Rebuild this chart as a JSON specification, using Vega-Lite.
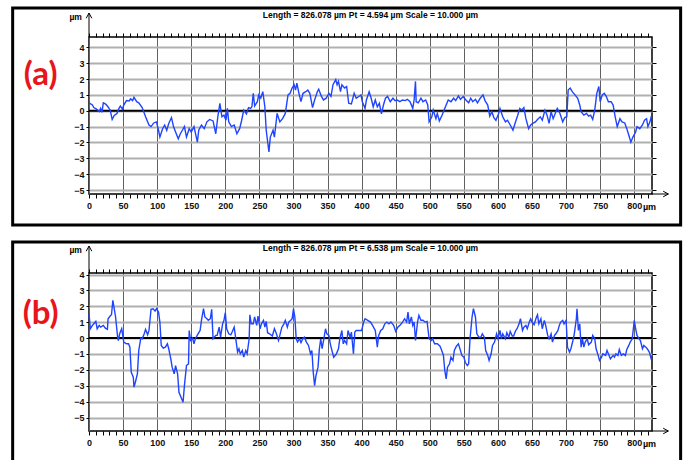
{
  "$schema": "https://vega.github.io/schema/vega-lite/v6.json",
  "padding": {"left": 10, "top": 5, "right": 0, "bottom": 0},
  "spacing": 11,
  "config": {
    "view": {"stroke": "#000", "strokeWidth": 1.5},
    "axis": {"labelFont": "Liberation Sans Narrow, Liberation Sans, sans-serif", "labelFontSize": 9, "labelFontWeight": "bold", "labelColor": "#111", "tickColor": "#000", "domain": false, "titleFont": "Liberation Sans Narrow, Liberation Sans, sans-serif", "titleFontSize": 9, "titleFontWeight": "bold"}
  },
  "datasets": {
    "one": [{}],
    "a": [
      {"x":0,"z":0.5},{"x":5,"z":0.36},{"x":7,"z":0.2},{"x":11,"z":0.1},{"x":15,"z":-0.05},{"x":17,"z":0.15},{"x":19,"z":-0.1},{"x":21,"z":0.5},{"x":24,"z":0.43},{"x":27,"z":0.3},{"x":31,"z":0.05},{"x":34,"z":-0.55},{"x":37,"z":-0.3},{"x":41,"z":-0.17},{"x":44,"z":0.15},{"x":46,"z":0.3},{"x":49,"z":0.1},{"x":51,"z":0.36},{"x":55,"z":0.64},{"x":59,"z":0.62},{"x":61,"z":0.75},{"x":64,"z":0.64},{"x":66,"z":0.85},{"x":70,"z":0.57},{"x":73,"z":0.5},{"x":78,"z":0.2},{"x":83,"z":-0.38},{"x":88,"z":-0.9},{"x":91,"z":-1.0},{"x":95,"z":-0.77},{"x":99,"z":-0.7},{"x":102,"z":-1.23},{"x":104,"z":-1.66},{"x":108,"z":-1.13},{"x":111,"z":-0.9},{"x":114,"z":-1.23},{"x":117,"z":-0.8},{"x":121,"z":-0.43},{"x":124,"z":-1.0},{"x":127,"z":-1.34},{"x":131,"z":-1.77},{"x":134,"z":-1.45},{"x":137,"z":-1.23},{"x":140,"z":-1.0},{"x":143,"z":-1.66},{"x":147,"z":-1.13},{"x":150,"z":-1.34},{"x":154,"z":-1.0},{"x":159,"z":-1.98},{"x":161,"z":-1.23},{"x":165,"z":-0.9},{"x":169,"z":-1.13},{"x":173,"z":-0.7},{"x":177,"z":-0.55},{"x":182,"z":-0.64},{"x":186,"z":-1.45},{"x":189,"z":-0.38},{"x":192,"z":0.47},{"x":195,"z":-0.38},{"x":198,"z":-0.28},{"x":201,"z":-0.6},{"x":203,"z":0.15},{"x":205,"z":-0.7},{"x":209,"z":-1.0},{"x":213,"z":-0.9},{"x":217,"z":-1.45},{"x":221,"z":-1.13},{"x":224,"z":-0.6},{"x":227,"z":0.04},{"x":231,"z":-0.2},{"x":234,"z":0.2},{"x":237,"z":0.15},{"x":239,"z":0.25},{"x":241,"z":1.1},{"x":243,"z":0.3},{"x":247,"z":0.57},{"x":249,"z":1.0},{"x":252,"z":0.8},{"x":255,"z":1.2},{"x":258,"z":0.25},{"x":260,"z":-1.23},{"x":264,"z":-2.6},{"x":266,"z":-1.66},{"x":270,"z":-1.23},{"x":272,"z":-1.66},{"x":276,"z":-0.17},{"x":280,"z":-0.7},{"x":284,"z":-0.5},{"x":288,"z":-0.17},{"x":292,"z":1.0},{"x":295,"z":1.1},{"x":298,"z":1.43},{"x":301,"z":1.64},{"x":303,"z":1.3},{"x":305,"z":1.74},{"x":308,"z":1.1},{"x":311,"z":0.57},{"x":314,"z":1.1},{"x":318,"z":1.2},{"x":321,"z":1.3},{"x":324,"z":1.1},{"x":328,"z":0.2},{"x":331,"z":0.68},{"x":335,"z":1.2},{"x":337,"z":1.36},{"x":341,"z":0.9},{"x":344,"z":0.68},{"x":348,"z":0.79},{"x":352,"z":1.1},{"x":355,"z":0.9},{"x":358,"z":1.64},{"x":362,"z":1.96},{"x":364,"z":1.64},{"x":366,"z":1.85},{"x":369,"z":1.2},{"x":371,"z":1.64},{"x":375,"z":1.43},{"x":378,"z":1.53},{"x":381,"z":0.47},{"x":385,"z":0.43},{"x":389,"z":1.1},{"x":392,"z":0.79},{"x":396,"z":0.9},{"x":399,"z":1.0},{"x":401,"z":0.57},{"x":405,"z":0.15},{"x":407,"z":0.68},{"x":411,"z":1.2},{"x":414,"z":0.79},{"x":417,"z":0.25},{"x":420,"z":0.68},{"x":423,"z":0.25},{"x":426,"z":0.47},{"x":429,"z":-0.2},{"x":432,"z":0.36},{"x":435,"z":0.79},{"x":438,"z":0.9},{"x":442,"z":0.57},{"x":446,"z":0.79},{"x":449,"z":0.64},{"x":452,"z":0.68},{"x":456,"z":0.57},{"x":460,"z":0.68},{"x":464,"z":0.64},{"x":467,"z":0.72},{"x":471,"z":0.57},{"x":475,"z":0.15},{"x":477,"z":0.68},{"x":479,"z":1.85},{"x":480,"z":0.57},{"x":483,"z":0.5},{"x":487,"z":0.79},{"x":490,"z":0.57},{"x":494,"z":0.68},{"x":497,"z":0.36},{"x":499,"z":-0.7},{"x":503,"z":-0.38},{"x":505,"z":0.04},{"x":509,"z":-0.5},{"x":511,"z":-0.17},{"x":514,"z":-0.64},{"x":518,"z":-0.28},{"x":521,"z":0.04},{"x":524,"z":0.36},{"x":527,"z":0.68},{"x":531,"z":0.57},{"x":535,"z":0.79},{"x":538,"z":0.64},{"x":542,"z":0.94},{"x":545,"z":0.72},{"x":549,"z":0.9},{"x":553,"z":0.68},{"x":557,"z":0.5},{"x":560,"z":0.79},{"x":563,"z":0.57},{"x":567,"z":0.72},{"x":570,"z":0.5},{"x":574,"z":0.79},{"x":578,"z":1.0},{"x":581,"z":0.64},{"x":585,"z":0.36},{"x":588,"z":-0.34},{"x":591,"z":-0.06},{"x":594,"z":-0.43},{"x":597,"z":-0.6},{"x":601,"z":-0.17},{"x":603,"z":0.15},{"x":607,"z":-0.38},{"x":611,"z":-0.7},{"x":614,"z":-0.6},{"x":618,"z":-0.9},{"x":622,"z":-1.23},{"x":625,"z":-0.8},{"x":629,"z":-0.28},{"x":632,"z":0.15},{"x":635,"z":0.04},{"x":638,"z":0.2},{"x":641,"z":-0.5},{"x":645,"z":-1.13},{"x":648,"z":-0.9},{"x":651,"z":-0.8},{"x":655,"z":-0.7},{"x":658,"z":-0.55},{"x":662,"z":-0.38},{"x":665,"z":-0.6},{"x":669,"z":0.04},{"x":672,"z":-0.28},{"x":675,"z":-0.8},{"x":678,"z":-0.06},{"x":681,"z":-0.5},{"x":684,"z":-0.17},{"x":687,"z":0.15},{"x":691,"z":-0.17},{"x":695,"z":-0.7},{"x":698,"z":-0.43},{"x":701,"z":-0.38},{"x":703,"z":1.3},{"x":706,"z":1.43},{"x":709,"z":1.2},{"x":713,"z":1.0},{"x":717,"z":0.79},{"x":720,"z":0.36},{"x":722,"z":-0.06},{"x":726,"z":-0.28},{"x":730,"z":-0.17},{"x":733,"z":-0.34},{"x":736,"z":-0.28},{"x":739,"z":-0.55},{"x":742,"z":0.04},{"x":745,"z":1.1},{"x":748,"z":1.53},{"x":750,"z":0.57},{"x":753,"z":1.0},{"x":756,"z":1.1},{"x":759,"z":0.9},{"x":762,"z":0.57},{"x":766,"z":0.57},{"x":769,"z":0.36},{"x":772,"z":-0.38},{"x":775,"z":-1.0},{"x":779,"z":-0.5},{"x":782,"z":-0.7},{"x":786,"z":-0.77},{"x":789,"z":-1.13},{"x":792,"z":-1.55},{"x":795,"z":-1.98},{"x":798,"z":-1.66},{"x":802,"z":-1.34},{"x":804,"z":-1.0},{"x":808,"z":-1.13},{"x":812,"z":-0.9},{"x":815,"z":-0.6},{"x":818,"z":-0.5},{"x":820,"z":-1.0},{"x":823,"z":-0.7},{"x":825,"z":-0.34}
    ],
    "b": [
      {"x":0,"z":1.54},{"x":2,"z":0.59},{"x":5,"z":0.8},{"x":7,"z":0.9},{"x":10,"z":1.05},{"x":12,"z":0.59},{"x":15,"z":0.8},{"x":17,"z":0.69},{"x":21,"z":0.8},{"x":24,"z":0.63},{"x":27,"z":0.55},{"x":28,"z":1.22},{"x":31,"z":1.39},{"x":33,"z":1.47},{"x":35,"z":2.38},{"x":37,"z":1.85},{"x":39,"z":1.33},{"x":42,"z":0.06},{"x":43,"z":-0.15},{"x":45,"z":0.27},{"x":48,"z":0.59},{"x":51,"z":-0.25},{"x":55,"z":-0.36},{"x":58,"z":-0.36},{"x":60,"z":-0.57},{"x":62,"z":-2.15},{"x":65,"z":-2.46},{"x":66,"z":-3.09},{"x":68,"z":-2.78},{"x":71,"z":-2.25},{"x":73,"z":-0.78},{"x":76,"z":0.0},{"x":78,"z":-0.04},{"x":81,"z":0.27},{"x":83,"z":0.55},{"x":86,"z":0.21},{"x":88,"z":0.48},{"x":91,"z":1.81},{"x":94,"z":1.85},{"x":97,"z":1.7},{"x":99,"z":1.85},{"x":102,"z":1.64},{"x":104,"z":1.01},{"x":106,"z":-0.46},{"x":109,"z":-0.63},{"x":112,"z":-0.57},{"x":115,"z":-0.36},{"x":117,"z":-0.67},{"x":120,"z":-1.31},{"x":122,"z":-1.83},{"x":125,"z":-2.25},{"x":127,"z":-1.73},{"x":130,"z":-2.25},{"x":132,"z":-3.41},{"x":135,"z":-3.73},{"x":138,"z":-4.04},{"x":140,"z":-2.99},{"x":143,"z":-1.73},{"x":146,"z":-1.62},{"x":147,"z":0.48},{"x":149,"z":-0.15},{"x":152,"z":0.0},{"x":154,"z":-0.36},{"x":156,"z":-0.04},{"x":160,"z":0.27},{"x":163,"z":0.48},{"x":165,"z":1.12},{"x":168,"z":1.85},{"x":170,"z":1.33},{"x":173,"z":1.22},{"x":175,"z":1.12},{"x":178,"z":1.22},{"x":180,"z":1.81},{"x":182,"z":-0.04},{"x":186,"z":0.17},{"x":188,"z":0.17},{"x":191,"z":0.69},{"x":193,"z":0.06},{"x":196,"z":0.9},{"x":198,"z":1.12},{"x":200,"z":1.6},{"x":202,"z":0.59},{"x":205,"z":0.27},{"x":208,"z":0.21},{"x":210,"z":0.38},{"x":213,"z":0.69},{"x":215,"z":0.06},{"x":218,"z":-0.88},{"x":220,"z":-0.67},{"x":222,"z":-0.99},{"x":225,"z":-0.78},{"x":227,"z":-1.2},{"x":230,"z":-0.78},{"x":232,"z":-0.99},{"x":235,"z":-0.04},{"x":236,"z":1.47},{"x":238,"z":0.9},{"x":241,"z":0.9},{"x":243,"z":1.33},{"x":246,"z":0.8},{"x":248,"z":1.39},{"x":251,"z":0.59},{"x":253,"z":0.9},{"x":256,"z":1.12},{"x":258,"z":0.69},{"x":260,"z":1.05},{"x":262,"z":0.34},{"x":265,"z":0.27},{"x":269,"z":0.13},{"x":272,"z":0.59},{"x":275,"z":0.27},{"x":278,"z":-0.15},{"x":280,"z":0.17},{"x":283,"z":0.69},{"x":286,"z":0.9},{"x":288,"z":1.12},{"x":291,"z":0.69},{"x":293,"z":1.01},{"x":296,"z":1.12},{"x":298,"z":1.22},{"x":300,"z":1.85},{"x":302,"z":1.33},{"x":304,"z":-0.04},{"x":306,"z":-0.25},{"x":309,"z":-0.04},{"x":311,"z":-0.29},{"x":314,"z":0.0},{"x":316,"z":0.06},{"x":319,"z":-0.25},{"x":322,"z":-0.46},{"x":325,"z":-0.99},{"x":327,"z":-0.78},{"x":329,"z":-2.15},{"x":331,"z":-2.99},{"x":333,"z":-2.36},{"x":336,"z":-1.83},{"x":338,"z":-0.67},{"x":340,"z":-0.04},{"x":342,"z":-0.67},{"x":345,"z":0.06},{"x":347,"z":0.59},{"x":349,"z":0.27},{"x":352,"z":0.17},{"x":354,"z":-0.36},{"x":357,"z":-0.88},{"x":359,"z":-1.2},{"x":363,"z":-0.99},{"x":366,"z":-0.67},{"x":368,"z":-0.04},{"x":371,"z":0.48},{"x":373,"z":-0.36},{"x":375,"z":-0.15},{"x":378,"z":-0.36},{"x":380,"z":0.48},{"x":383,"z":0.06},{"x":385,"z":0.38},{"x":388,"z":-0.99},{"x":390,"z":0.38},{"x":392,"z":0.48},{"x":397,"z":0.48},{"x":400,"z":0.48},{"x":403,"z":1.01},{"x":405,"z":1.22},{"x":409,"z":1.12},{"x":413,"z":1.01},{"x":416,"z":0.8},{"x":420,"z":0.48},{"x":423,"z":-0.57},{"x":425,"z":0.17},{"x":428,"z":0.48},{"x":431,"z":0.59},{"x":434,"z":0.9},{"x":437,"z":1.01},{"x":440,"z":0.9},{"x":443,"z":1.01},{"x":447,"z":0.8},{"x":450,"z":0.42},{"x":453,"z":0.69},{"x":457,"z":0.84},{"x":460,"z":1.01},{"x":463,"z":1.22},{"x":466,"z":1.01},{"x":468,"z":1.64},{"x":470,"z":0.9},{"x":473,"z":1.33},{"x":475,"z":0.8},{"x":477,"z":1.01},{"x":479,"z":-0.15},{"x":482,"z":1.01},{"x":484,"z":1.43},{"x":487,"z":1.12},{"x":490,"z":1.12},{"x":493,"z":1.01},{"x":496,"z":1.05},{"x":499,"z":-0.04},{"x":502,"z":-0.15},{"x":504,"z":-0.04},{"x":507,"z":-0.36},{"x":511,"z":-0.36},{"x":515,"z":-0.51},{"x":517,"z":-0.72},{"x":520,"z":-1.09},{"x":522,"z":-2.04},{"x":524,"z":-2.57},{"x":526,"z":-1.83},{"x":529,"z":-1.62},{"x":531,"z":-1.2},{"x":534,"z":-1.41},{"x":536,"z":-0.78},{"x":539,"z":-0.51},{"x":542,"z":-0.36},{"x":545,"z":-0.78},{"x":547,"z":-1.09},{"x":550,"z":-1.2},{"x":552,"z":-1.52},{"x":555,"z":-1.73},{"x":557,"z":-1.62},{"x":559,"z":-0.04},{"x":562,"z":1.33},{"x":564,"z":1.85},{"x":567,"z":1.33},{"x":569,"z":0.27},{"x":572,"z":0.06},{"x":575,"z":0.06},{"x":577,"z":0.27},{"x":580,"z":0.06},{"x":582,"z":-0.78},{"x":585,"z":-1.09},{"x":587,"z":-1.41},{"x":590,"z":-0.99},{"x":592,"z":-0.46},{"x":595,"z":-0.25},{"x":598,"z":0.27},{"x":600,"z":-0.04},{"x":603,"z":0.48},{"x":605,"z":-0.04},{"x":607,"z":0.27},{"x":611,"z":-0.04},{"x":613,"z":0.34},{"x":616,"z":0.06},{"x":618,"z":0.42},{"x":621,"z":0.13},{"x":623,"z":0.13},{"x":626,"z":0.48},{"x":628,"z":0.59},{"x":631,"z":0.9},{"x":633,"z":1.22},{"x":636,"z":0.48},{"x":638,"z":0.69},{"x":641,"z":0.8},{"x":643,"z":0.59},{"x":646,"z":1.01},{"x":648,"z":1.22},{"x":650,"z":1.01},{"x":653,"z":0.84},{"x":656,"z":1.26},{"x":658,"z":1.47},{"x":660,"z":0.9},{"x":663,"z":1.22},{"x":665,"z":0.59},{"x":668,"z":1.12},{"x":670,"z":0.8},{"x":673,"z":0.17},{"x":675,"z":-0.04},{"x":678,"z":0.27},{"x":680,"z":-0.25},{"x":683,"z":0.17},{"x":685,"z":0.27},{"x":688,"z":0.48},{"x":690,"z":0.8},{"x":692,"z":1.01},{"x":695,"z":1.12},{"x":697,"z":0.9},{"x":700,"z":1.12},{"x":702,"z":-0.57},{"x":705,"z":-0.88},{"x":707,"z":-0.67},{"x":710,"z":-0.15},{"x":712,"z":0.27},{"x":715,"z":1.22},{"x":716,"z":1.85},{"x":718,"z":0.48},{"x":720,"z":0.9},{"x":722,"z":-0.57},{"x":724,"z":-0.04},{"x":726,"z":-0.57},{"x":728,"z":-0.25},{"x":731,"z":-0.04},{"x":733,"z":-0.42},{"x":737,"z":-0.25},{"x":739,"z":0.17},{"x":742,"z":-0.04},{"x":744,"z":-0.67},{"x":747,"z":-1.09},{"x":749,"z":-1.41},{"x":752,"z":-1.2},{"x":754,"z":-0.99},{"x":758,"z":-1.09},{"x":760,"z":-0.78},{"x":762,"z":-0.99},{"x":765,"z":-1.31},{"x":769,"z":-1.09},{"x":771,"z":-1.2},{"x":773,"z":-0.99},{"x":776,"z":-1.09},{"x":778,"z":-0.72},{"x":781,"z":-1.09},{"x":784,"z":-0.99},{"x":787,"z":-1.09},{"x":789,"z":-0.72},{"x":792,"z":-0.46},{"x":794,"z":-0.25},{"x":797,"z":-0.04},{"x":800,"z":1.12},{"x":802,"z":0.59},{"x":804,"z":0.17},{"x":807,"z":-0.04},{"x":809,"z":-0.15},{"x":812,"z":-0.67},{"x":814,"z":-0.46},{"x":817,"z":-0.57},{"x":819,"z":-0.67},{"x":822,"z":-0.88},{"x":823,"z":-1.0},{"x":825,"z":-1.35}
    ]
  },
  "vconcat": [
    {
      "width": 563,
      "height": 157,
      "layer": [
        {
          "data": {"name": "one"},
          "mark": {"type": "rect", "fill": "#fff", "fillOpacity": 0, "stroke": "#000", "strokeWidth": 3, "clip": false},
          "encoding": {
            "x": {"datum": -112, "type": "quantitative", "scale": {"domain": [0, 826], "nice": false, "zero": false}, "axis": null},
            "x2": {"datum": 868},
            "y": {"datum": 6.48, "type": "quantitative", "scale": {"domain": [-5.25, 4.65], "nice": false, "zero": false}, "axis": null},
            "y2": {"datum": -7.2}
          }
        },
        {
          "data": {"name": "a"},
          "mark": {"type": "line", "opacity": 0},
          "encoding": {
            "x": {"field": "x", "type": "quantitative", "scale": {"domain": [0, 826], "nice": false, "zero": false},
              "axis": {"orient": "top", "values": [0,10,20,30,40,50,60,70,80,90,100,110,120,130,140,150,160,170,180,190,200,210,220,230,240,250,260,270,280,290,300,310,320,330,340,350,360,370,380,390,400,410,420,430,440,450,460,470,480,490,500,510,520,530,540,550,560,570,580,590,600,610,620,630,640,650,660,670,680,690,700,710,720,730,740,750,760,770,780,790,800,810,820], "labels": false, "tickSize": 4, "grid": false, "title": null}},
            "y": {"field": "z", "type": "quantitative", "scale": {"domain": [-5.25, 4.65], "nice": false, "zero": false},
              "axis": {"orient": "right", "values": [-5,-4,-3,-2,-1,0,1,2,3,4], "labels": false, "tickSize": 4, "grid": false, "title": null}}
          }
        },
        {
          "data": {"name": "one"},
          "mark": {"type": "rule", "color": "#000", "strokeWidth": 2},
          "encoding": {
            "y": {"datum": 0, "type": "quantitative", "scale": {"domain": [-5.25, 4.65], "nice": false, "zero": false}, "axis": null}
          }
        },
        {
          "data": {"name": "a"},
          "mark": {"type": "line", "color": "#1f44ff", "strokeWidth": 1.4},
          "encoding": {
            "x": {"field": "x", "type": "quantitative", "scale": {"domain": [0, 826], "nice": false, "zero": false},
              "axis": {"orient": "bottom", "values": [0,10,20,30,40,50,60,70,80,90,100,110,120,130,140,150,160,170,180,190,200,210,220,230,240,250,260,270,280,290,300,310,320,330,340,350,360,370,380,390,400,410,420,430,440,450,460,470,480,490,500,510,520,530,540,550,560,570,580,590,600,610,620,630,640,650,660,670,680,690,700,710,720,730,740,750,760,770,780,790,800,810,820],
                "labelExpr": "datum.value % 50 === 0 ? datum.label : ''", "labelOverlap": false, "labelFlush": false, "labelPadding": 3, "tickSize": 4,
                "grid": true, "gridColor": "#606060", "gridWidth": 1, "gridOpacity": {"condition": {"test": "datum.value % 50 === 0", "value": 1}, "value": 0},
                "title": "µm", "titleX": 560, "titleY": 12, "titleAlign": "center", "titleBaseline": "middle"}},
            "y": {"field": "z", "type": "quantitative", "scale": {"domain": [-5.25, 4.65], "nice": false, "zero": false},
              "axis": {"orient": "left", "values": [-5,-4,-3,-2,-1,0,1,2,3,4], "tickSize": 3, "labelPadding": 2, "grid": true, "gridColor": "#b0b0b0", "gridWidth": 2, "title": null}}
          }
        },
        {
          "data": {"name": "one"},
          "mark": {"type": "rule", "color": "#000", "strokeWidth": 1},
          "encoding": {
            "x": {"datum": 0, "type": "quantitative", "scale": {"domain": [0, 826], "nice": false, "zero": false}, "axis": null},
            "y": {"datum": 4.65, "type": "quantitative", "scale": {"domain": [-5.25, 4.65], "nice": false, "zero": false}, "axis": null},
            "y2": {"datum": 6.16}
          }
        },
        {
          "data": {"name": "one"},
          "mark": {"type": "point", "shape": "M-0.7,1.3L0,0L0.7,1.3", "size": 64, "filled": false, "stroke": "#000", "strokeWidth": 1, "opacity": 1},
          "encoding": {
            "x": {"datum": 0, "type": "quantitative", "scale": {"domain": [0, 826], "nice": false, "zero": false}, "axis": null},
            "y": {"datum": 6.16, "type": "quantitative", "scale": {"domain": [-5.25, 4.65], "nice": false, "zero": false}, "axis": null}
          }
        },
        {
          "data": {"name": "one"},
          "mark": {"type": "rule", "color": "#000", "strokeWidth": 1},
          "encoding": {
            "x": {"datum": 826, "type": "quantitative", "scale": {"domain": [0, 826], "nice": false, "zero": false}, "axis": null},
            "x2": {"datum": 850},
            "y": {"datum": -5.25, "type": "quantitative", "scale": {"domain": [-5.25, 4.65], "nice": false, "zero": false}, "axis": null}
          }
        },
        {
          "data": {"name": "one"},
          "mark": {"type": "point", "shape": "M-1.3,-0.7L0,0L-1.3,0.7", "size": 64, "filled": false, "stroke": "#000", "strokeWidth": 1, "opacity": 1},
          "encoding": {
            "x": {"datum": 850, "type": "quantitative", "scale": {"domain": [0, 826], "nice": false, "zero": false}, "axis": null},
            "y": {"datum": -5.25, "type": "quantitative", "scale": {"domain": [-5.25, 4.65], "nice": false, "zero": false}, "axis": null}
          }
        },
        {
          "data": {"name": "one"},
          "mark": {"type": "text", "text": "Length = 826.078 µm  Pt = 4.594 µm  Scale = 10.000 µm", "font": "Liberation Sans Narrow, Liberation Sans, sans-serif", "fontSize": 8.5, "fontWeight": "bold", "align": "center", "baseline": "middle", "color": "#000"},
          "encoding": {
            "x": {"datum": 413, "type": "quantitative", "scale": {"domain": [0, 826], "nice": false, "zero": false}, "axis": null},
            "y": {"datum": 6.04, "type": "quantitative", "scale": {"domain": [-5.25, 4.65], "nice": false, "zero": false}, "axis": null}
          }
        },
        {
          "data": {"name": "one"},
          "mark": {"type": "text", "text": "µm", "font": "Liberation Sans Narrow, Liberation Sans, sans-serif", "fontSize": 8.5, "fontWeight": "bold", "align": "center", "baseline": "middle", "color": "#000"},
          "encoding": {
            "x": {"datum": -19.5, "type": "quantitative", "scale": {"domain": [0, 826], "nice": false, "zero": false}, "axis": null},
            "y": {"datum": 5.91, "type": "quantitative", "scale": {"domain": [-5.25, 4.65], "nice": false, "zero": false}, "axis": null}
          }
        },
        {
          "data": {"name": "one"},
          "mark": {"type": "text", "text": "(a)", "font": "Lato", "fontSize": 33, "fontWeight": "bold", "align": "center", "baseline": "middle", "color": "#e8151b"},
          "encoding": {
            "x": {"datum": -71, "type": "quantitative", "scale": {"domain": [0, 826], "nice": false, "zero": false}, "axis": null},
            "y": {"datum": 2.25, "type": "quantitative", "scale": {"domain": [-5.25, 4.65], "nice": false, "zero": false}, "axis": null}
          }
        }
      ],
      "resolve": {"axis": {"x": "independent", "y": "independent"}}
    },
    {
      "width": 563,
      "height": 158,
      "layer": [
        {
          "data": {"name": "one"},
          "mark": {"type": "rect", "fill": "#fff", "fillOpacity": 0, "stroke": "#000", "strokeWidth": 3, "clip": false},
          "encoding": {
            "x": {"datum": -112, "type": "quantitative", "scale": {"domain": [0, 826], "nice": false, "zero": false}, "axis": null},
            "x2": {"datum": 868},
            "y": {"datum": 6.06, "type": "quantitative", "scale": {"domain": [-5.85, 4.1], "nice": false, "zero": false}, "axis": null},
            "y2": {"datum": -8.2}
          }
        },
        {
          "data": {"name": "b"},
          "mark": {"type": "line", "opacity": 0},
          "encoding": {
            "x": {"field": "x", "type": "quantitative", "scale": {"domain": [0, 826], "nice": false, "zero": false},
              "axis": {"orient": "top", "values": [0,10,20,30,40,50,60,70,80,90,100,110,120,130,140,150,160,170,180,190,200,210,220,230,240,250,260,270,280,290,300,310,320,330,340,350,360,370,380,390,400,410,420,430,440,450,460,470,480,490,500,510,520,530,540,550,560,570,580,590,600,610,620,630,640,650,660,670,680,690,700,710,720,730,740,750,760,770,780,790,800,810,820], "labels": false, "tickSize": 4, "grid": false, "title": null}},
            "y": {"field": "z", "type": "quantitative", "scale": {"domain": [-5.85, 4.1], "nice": false, "zero": false},
              "axis": {"orient": "right", "values": [-5,-4,-3,-2,-1,0,1,2,3,4], "labels": false, "tickSize": 4, "grid": false, "title": null}}
          }
        },
        {
          "data": {"name": "one"},
          "mark": {"type": "rule", "color": "#000", "strokeWidth": 2},
          "encoding": {
            "y": {"datum": 0, "type": "quantitative", "scale": {"domain": [-5.85, 4.1], "nice": false, "zero": false}, "axis": null}
          }
        },
        {
          "data": {"name": "b"},
          "mark": {"type": "line", "color": "#1f44ff", "strokeWidth": 1.4},
          "encoding": {
            "x": {"field": "x", "type": "quantitative", "scale": {"domain": [0, 826], "nice": false, "zero": false},
              "axis": {"orient": "bottom", "values": [0,10,20,30,40,50,60,70,80,90,100,110,120,130,140,150,160,170,180,190,200,210,220,230,240,250,260,270,280,290,300,310,320,330,340,350,360,370,380,390,400,410,420,430,440,450,460,470,480,490,500,510,520,530,540,550,560,570,580,590,600,610,620,630,640,650,660,670,680,690,700,710,720,730,740,750,760,770,780,790,800,810,820],
                "labelExpr": "datum.value % 50 === 0 ? datum.label : ''", "labelOverlap": false, "labelFlush": false, "labelPadding": 3, "tickSize": 4,
                "grid": true, "gridColor": "#606060", "gridWidth": 1, "gridOpacity": {"condition": {"test": "datum.value % 50 === 0", "value": 1}, "value": 0},
                "title": "µm", "titleX": 560, "titleY": 12, "titleAlign": "center", "titleBaseline": "middle"}},
            "y": {"field": "z", "type": "quantitative", "scale": {"domain": [-5.85, 4.1], "nice": false, "zero": false},
              "axis": {"orient": "left", "values": [-5,-4,-3,-2,-1,0,1,2,3,4], "tickSize": 3, "labelPadding": 2, "grid": true, "gridColor": "#b0b0b0", "gridWidth": 2, "title": null}}
          }
        },
        {
          "data": {"name": "one"},
          "mark": {"type": "rule", "color": "#000", "strokeWidth": 1},
          "encoding": {
            "x": {"datum": 0, "type": "quantitative", "scale": {"domain": [0, 826], "nice": false, "zero": false}, "axis": null},
            "y": {"datum": 4.1, "type": "quantitative", "scale": {"domain": [-5.85, 4.1], "nice": false, "zero": false}, "axis": null},
            "y2": {"datum": 5.8}
          }
        },
        {
          "data": {"name": "one"},
          "mark": {"type": "point", "shape": "M-0.7,1.3L0,0L0.7,1.3", "size": 64, "filled": false, "stroke": "#000", "strokeWidth": 1, "opacity": 1},
          "encoding": {
            "x": {"datum": 0, "type": "quantitative", "scale": {"domain": [0, 826], "nice": false, "zero": false}, "axis": null},
            "y": {"datum": 5.8, "type": "quantitative", "scale": {"domain": [-5.85, 4.1], "nice": false, "zero": false}, "axis": null}
          }
        },
        {
          "data": {"name": "one"},
          "mark": {"type": "rule", "color": "#000", "strokeWidth": 1},
          "encoding": {
            "x": {"datum": 826, "type": "quantitative", "scale": {"domain": [0, 826], "nice": false, "zero": false}, "axis": null},
            "x2": {"datum": 850},
            "y": {"datum": -5.85, "type": "quantitative", "scale": {"domain": [-5.85, 4.1], "nice": false, "zero": false}, "axis": null}
          }
        },
        {
          "data": {"name": "one"},
          "mark": {"type": "point", "shape": "M-1.3,-0.7L0,0L-1.3,0.7", "size": 64, "filled": false, "stroke": "#000", "strokeWidth": 1, "opacity": 1},
          "encoding": {
            "x": {"datum": 850, "type": "quantitative", "scale": {"domain": [0, 826], "nice": false, "zero": false}, "axis": null},
            "y": {"datum": -5.85, "type": "quantitative", "scale": {"domain": [-5.85, 4.1], "nice": false, "zero": false}, "axis": null}
          }
        },
        {
          "data": {"name": "one"},
          "mark": {"type": "text", "text": "Length = 826.078 µm  Pt = 6.538 µm  Scale = 10.000 µm", "font": "Liberation Sans Narrow, Liberation Sans, sans-serif", "fontSize": 8.5, "fontWeight": "bold", "align": "center", "baseline": "middle", "color": "#000"},
          "encoding": {
            "x": {"datum": 413, "type": "quantitative", "scale": {"domain": [0, 826], "nice": false, "zero": false}, "axis": null},
            "y": {"datum": 5.68, "type": "quantitative", "scale": {"domain": [-5.85, 4.1], "nice": false, "zero": false}, "axis": null}
          }
        },
        {
          "data": {"name": "one"},
          "mark": {"type": "text", "text": "µm", "font": "Liberation Sans Narrow, Liberation Sans, sans-serif", "fontSize": 8.5, "fontWeight": "bold", "align": "center", "baseline": "middle", "color": "#000"},
          "encoding": {
            "x": {"datum": -19.5, "type": "quantitative", "scale": {"domain": [0, 826], "nice": false, "zero": false}, "axis": null},
            "y": {"datum": 5.55, "type": "quantitative", "scale": {"domain": [-5.85, 4.1], "nice": false, "zero": false}, "axis": null}
          }
        },
        {
          "data": {"name": "one"},
          "mark": {"type": "text", "text": "(b)", "font": "Lato", "fontSize": 33, "fontWeight": "bold", "align": "center", "baseline": "middle", "color": "#e8151b"},
          "encoding": {
            "x": {"datum": -71, "type": "quantitative", "scale": {"domain": [0, 826], "nice": false, "zero": false}, "axis": null},
            "y": {"datum": 1.51, "type": "quantitative", "scale": {"domain": [-5.85, 4.1], "nice": false, "zero": false}, "axis": null}
          }
        }
      ],
      "resolve": {"axis": {"x": "independent", "y": "independent"}}
    }
  ]
}
